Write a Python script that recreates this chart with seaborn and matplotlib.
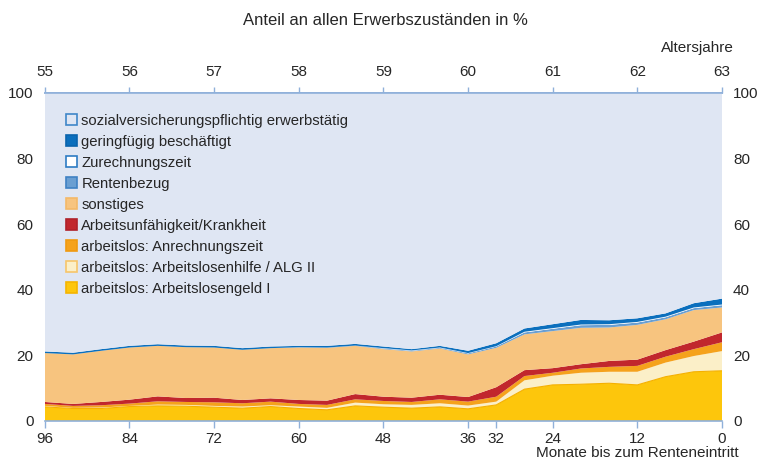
import numpy as np
import pandas as pd
import matplotlib
matplotlib.use("Agg")
import matplotlib.pyplot as plt
from matplotlib.patches import Patch
import seaborn as sns

sns.set_theme(style="white")
plt.rcParams["font.family"] = ["Liberation Sans", "DejaVu Sans"]

# Monate bis zum Renteneintritt
months = [96, 92, 88, 84, 80, 76, 72, 68, 64, 60, 56, 52, 48,
          44, 40, 36, 32, 28, 24, 20, 16, 12, 8, 4, 0]

# Anteile in % (von unten nach oben gestapelt)
alg1 = [4.3, 3.8, 3.8, 4.4, 4.6, 4.5, 4.2, 3.9, 4.4, 3.8, 3.4, 4.6, 4.2,
        3.9, 4.3, 3.7, 4.9, 9.7, 11.0, 11.2, 11.5, 11.0, 13.5, 15.0, 15.3]
alg2 = [0.3, 0.2, 0.3, 0.2, 0.4, 0.4, 0.4, 0.5, 0.4, 0.6, 0.6, 1.0, 0.9,
        1.0, 1.1, 1.0, 1.0, 2.7, 2.8, 3.5, 3.5, 4.0, 4.3, 4.8, 6.0]
anrechnung = [0.6, 0.6, 0.7, 0.7, 1.0, 0.9, 1.1, 1.0, 1.1, 0.8, 0.9, 1.0, 1.0,
              0.9, 1.2, 1.2, 1.5, 1.3, 0.9, 1.3, 1.5, 1.8, 1.8, 2.1, 2.7]
krankheit = [0.6, 0.6, 1.0, 1.2, 1.5, 1.2, 1.4, 1.0, 1.0, 1.2, 1.3, 1.6, 1.3,
             1.3, 1.4, 1.4, 2.9, 1.8, 1.4, 1.3, 1.8, 1.9, 2.0, 2.3, 3.0]
sonstiges = [14.9, 15.1, 15.6, 15.9, 15.4, 15.5, 15.3, 15.3, 15.3, 16.0, 16.1, 14.7, 14.5,
             14.1, 14.1, 13.0, 12.0, 10.9, 11.3, 11.1, 10.2, 10.6, 9.4, 9.6, 7.6]
rente = [0.0, 0.0, 0.0, 0.0, 0.0, 0.0, 0.0, 0.0, 0.0, 0.1, 0.1, 0.1, 0.2,
         0.2, 0.2, 0.3, 0.4, 0.6, 0.7, 0.8, 0.8, 0.7, 0.6, 0.6, 0.7]
zurechnung = [0.0, 0.0, 0.0, 0.0, 0.0, 0.0, 0.0, 0.0, 0.0, 0.0, 0.0, 0.0, 0.1,
              0.1, 0.1, 0.1, 0.1, 0.2, 0.2, 0.2, 0.2, 0.2, 0.2, 0.2, 0.2]
geringfuegig = [0.5, 0.5, 0.5, 0.5, 0.5, 0.5, 0.5, 0.5, 0.5, 0.4, 0.5, 0.5, 0.5,
                0.4, 0.5, 0.7, 0.9, 1.0, 1.2, 1.4, 1.2, 1.1, 1.0, 1.3, 1.8]

labels = ["arbeitslos: Arbeitslosengeld I",
          "arbeitslos: Arbeitslosenhilfe / ALG II",
          "arbeitslos: Anrechnungszeit",
          "Arbeitsunfähigkeit/Krankheit",
          "sonstiges",
          "Rentenbezug",
          "Zurechnungszeit",
          "geringfügig beschäftigt",
          "sozialversicherungspflichtig erwerbstätig"]
fills = ["#fdc60c", "#fbefc8", "#f5a21c", "#c1272d", "#f7c47f",
         "#6a9fd2", "#ffffff", "#0b6fbd", "#dfe6f3"]
edges = ["#f5b400", "#f7c56a", "#f09a10", "#b0222a", "#f4b968",
         "#3f82c4", "#2d7cc4", "#0a64ad", "#3f86c8"]

df = pd.DataFrame({"monat": months, labels[0]: alg1, labels[1]: alg2,
                   labels[2]: anrechnung, labels[3]: krankheit,
                   labels[4]: sonstiges, labels[5]: rente,
                   labels[6]: zurechnung, labels[7]: geringfuegig})
# Rest bis 100 % = sozialversicherungspflichtig erwerbstätig
df[labels[8]] = 100 - df[labels[:8]].sum(axis=1)

fig = plt.figure(figsize=(7.6, 4.66), dpi=100)
ax = fig.add_axes([0.059, 0.0966, 0.891, 0.704])

ax.stackplot(df["monat"], [df[c] for c in labels], colors=fills,
             edgecolor="none", linewidth=0)
# leichte Konturlinie an der Oberkante von ALG I
ax.plot(df["monat"], df[labels[0]], color="#f5b000", lw=0.8)

ax.set_xlim(96, 0)
ax.set_ylim(0, 100)
ax.set_xticks([96, 84, 72, 60, 48, 36, 32, 24, 12, 0])
ax.set_yticks([0, 20, 40, 60, 80, 100])
ax.tick_params(axis="x", direction="out", length=5, width=1, color="#8fb0da",
               labelsize=11, pad=3, bottom=True)
ax.tick_params(axis="y", length=0, labelsize=11, labelright=True, pad=8)
for s in ["left", "right"]:
    ax.spines[s].set_visible(False)
for s in ["top", "bottom"]:
    ax.spines[s].set_color("#8fb0da")
    ax.spines[s].set_linewidth(1.2)

sec = ax.secondary_xaxis("top", functions=(lambda m: 63 - np.asarray(m) / 12,
                                           lambda a: (63 - np.asarray(a)) * 12))
sec.set_xticks(range(55, 64))
sec.tick_params(direction="out", length=4, width=1, color="#8fb0da",
                labelsize=11, pad=6)
sec.spines["top"].set_color("#8fb0da")

fig.text(0.507, 0.955, "Anteil an allen Erwerbszuständen in %",
         ha="center", va="center", fontsize=12)
fig.text(0.965, 0.898, "Altersjahre", ha="right", va="center", fontsize=11)
fig.text(0.972, 0.012, "Monate bis zum Renteneintritt", ha="right",
         va="bottom", fontsize=11)

handles = [Patch(facecolor=f, edgecolor=e, linewidth=1.2, label=l)
           for f, e, l in zip(fills, edges, labels)][::-1]
ax.legend(handles=handles, loc="upper left", bbox_to_anchor=(0.022, 0.955),
          frameon=False, fontsize=10.7, handlelength=0.75, handleheight=0.75,
          handletextpad=0.3, labelspacing=0.47, borderaxespad=0)

plt.savefig("out.png", dpi=100)
